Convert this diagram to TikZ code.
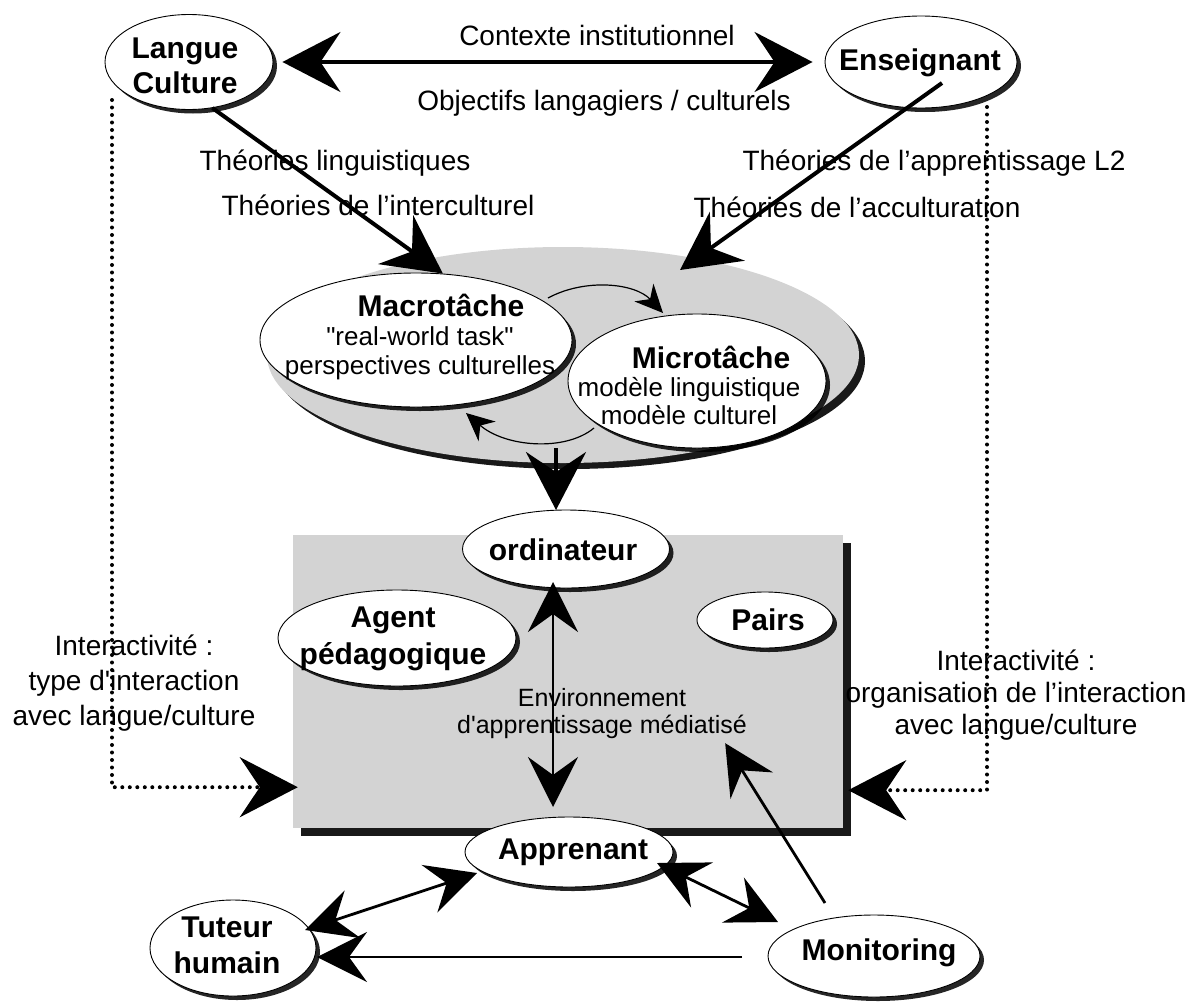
\documentclass[tikz,border=0pt]{standalone}
\usepackage{fontspec}
\setmainfont{Liberation Sans}[Ligatures=TeXOff]
\usetikzlibrary{shapes.geometric,arrows.meta,shadows,calc}
\definecolor{panel}{RGB}{211,211,211}
\tikzset{
  bigtip/.tip={Stealth[length=58pt,width=60pt,inset=20pt]},
  midtip/.tip={Stealth[length=50pt,width=50pt,inset=18pt]},
  smalltip/.tip={Stealth[length=28pt,width=26pt,inset=9pt]},
}
\begin{document}
\begin{tikzpicture}[x=1pt,y=-1pt,
  bub/.style={ellipse,draw=black,line width=0.9pt,fill=white,inner sep=0pt,
    drop shadow={shadow xshift=4pt,shadow yshift=-4pt,fill=black,opacity=0.85}},
  blab/.style={font=\fontsize{30}{35}\selectfont\bfseries,align=center,inner sep=0pt},
  lab/.style={font=\fontsize{28}{34}\selectfont,align=center,inner sep=0pt},
  sub/.style={font=\fontsize{26}{29}\selectfont,align=center,inner sep=0pt},
  thickarrow/.style={line width=4pt},
  medarrow/.style={line width=2.8pt},
  thinarrow/.style={line width=1.2pt,-smalltip},
  dots/.style={line width=4pt,line cap=round,dash pattern=on 0pt off 7.5pt},
]
\fill[white] (0,0) rectangle (1190,1001);
\useasboundingbox (0,0) rectangle (1190,1001);

% grey task ellipse and environment panel
\node[ellipse,fill=panel,inner sep=0pt,minimum width=592pt,minimum height=216pt,
  drop shadow={shadow xshift=6pt,shadow yshift=-6pt,fill=black,opacity=0.9}] (tasks) at (563,355) {};
\node[rectangle,fill=panel,inner sep=0pt,minimum width=550pt,minimum height=293pt,
  drop shadow={shadow xshift=8pt,shadow yshift=-8pt,fill=black,opacity=0.9}] (env) at (568,681.5) {};
\node[font=\fontsize{25}{27.5}\selectfont,align=center,inner sep=0pt] (envtxt) at (602,713.5)
  {Environnement\\d'apprentissage médiatisé};

% task ellipses
\node[bub,minimum width=312pt,minimum height=134pt] (macro) at (416,340) {};
\node[bub,minimum width=258pt,minimum height=134pt] (micro) at (697,381) {};
\node[sub] (macrotxt) at (420,337)
  {\hspace*{42pt}{\fontsize{30}{29}\selectfont\bfseries Macrotâche}\\"real-world task"\\perspectives culturelles};
\node[sub,font=\fontsize{26}{28}\selectfont] (microtxt) at (689,385)
  {\hspace*{44pt}{\fontsize{30}{28}\selectfont\bfseries Microtâche}\\modèle linguistique\\modèle culturel};

% top nodes
\node[bub,minimum width=168pt,minimum height=95pt] (langue) at (189,62) {};
\node[blab] (languetxt) at (185,65.5) {Langue\\Culture};
\node[bub,minimum width=192pt,minimum height=92pt] (ens) at (921,62) {};
\node[blab] (enstxt) at (920,63) {Enseignant};

% environment nodes
\node[bub,minimum width=207pt,minimum height=78pt] (ordi) at (566,549) {};
\node[blab] (orditxt) at (563,550) {ordinateur};
\node[bub,minimum width=238pt,minimum height=96pt] (agent) at (397,638) {};
\node[blab,font=\fontsize{30}{37}\selectfont\bfseries] (agenttxt) at (393,638.5) {Agent\\pédagogique};
\node[bub,minimum width=136pt,minimum height=56pt] (pairs) at (765,620) {};
\node[blab] (pairstxt) at (768,620) {Pairs};

% bottom nodes
\node[bub,minimum width=208pt,minimum height=70pt] (appr) at (569,852) {};
\node[blab] (apprtxt) at (573,852) {Apprenant};
\node[bub,minimum width=166pt,minimum height=96pt] (tuteur) at (233,948) {};
\node[blab,font=\fontsize{30}{36}\selectfont\bfseries] (tuteurtxt) at (227,945) {Tuteur\\humain};
\node[bub,minimum width=212pt,minimum height=82pt] (monit) at (874,956) {};
\node[blab] (monittxt) at (879,953) {Monitoring};

% labels
\node[lab] (ctx) at (597,35) {Contexte institutionnel};
\node[lab] (obj) at (604,103) {Objectifs langagiers / culturels};
\node[lab] (tl) at (335,163) {Théories linguistiques};
\node[lab] (ti) at (378,205) {Théories de l’interculturel};
\node[lab] (ta) at (934,163) {Théories de l’apprentissage L2};
\node[lab] (tc) at (857,207) {Théories de l’acculturation};
\node[lab,font=\fontsize{28}{35}\selectfont] (intl) at (134,683)
  {Interactivité :\\type d'interaction\\avec langue/culture};
\node[lab,font=\fontsize{28}{32}\selectfont] (intr) at (1016,695)
  {Interactivité :\\organisation de l’interaction\\avec langue/culture};

% dotted connectors
\draw[dots,-bigtip] ($(langue.center)+(-77,38)$) |- ($(env.south west)+(5,-41)$);
\draw[dots,-bigtip] ($(ens.center)+(66,45)$) |- ($(env.south east)+(5,-38)$);

% top arrows
\draw[thickarrow,bigtip-bigtip,shorten <=9pt,shorten >=12pt] (langue.east) -- (ens.west);
\draw[thickarrow,-bigtip] (langue.-63) -- (macro.68);
\draw[thickarrow,-bigtip] ($(ens.center)+(21,21)$) -- ($(tasks.center)+(117,-85)$);

% internal curved arrows
\draw[thinarrow] ($(macro.center)+(132,-42)$) .. controls (585,278) and (635,283) .. ($(micro.center)+(-34,-68)$);
\draw[thinarrow] ($(micro.center)+(-103,47)$) .. controls (565,452) and (505,447) .. ($(macro.center)+(50,73)$);

% task to computer
\draw[thickarrow,-bigtip] ($(tasks.center)+(-7,93)$) -- ($(ordi.center)+(-10,-39)$);

% computer <-> learner
\draw[medarrow,midtip-midtip] ($(ordi.center)+(-13,33)$) -- ($(appr.center)+(-16,-45)$);

% bottom arrows
\draw[medarrow,midtip-midtip] ($(tuteur.center)+(72,-18)$) -- ($(appr.center)+(-92,21)$);
\draw[medarrow,midtip-midtip] ($(appr.center)+(88,11)$) -- ($(monit.center)+(-96,-34)$);
\draw[medarrow,-midtip] ($(monit.center)+(-49,-53)$) -- ($(env.south east)+(-118,-85)$);
\draw[medarrow,-midtip] ($(monit.center)+(-132,1)$) -- ($(tuteur.center)+(84,9)$);
\end{tikzpicture}
\end{document}
